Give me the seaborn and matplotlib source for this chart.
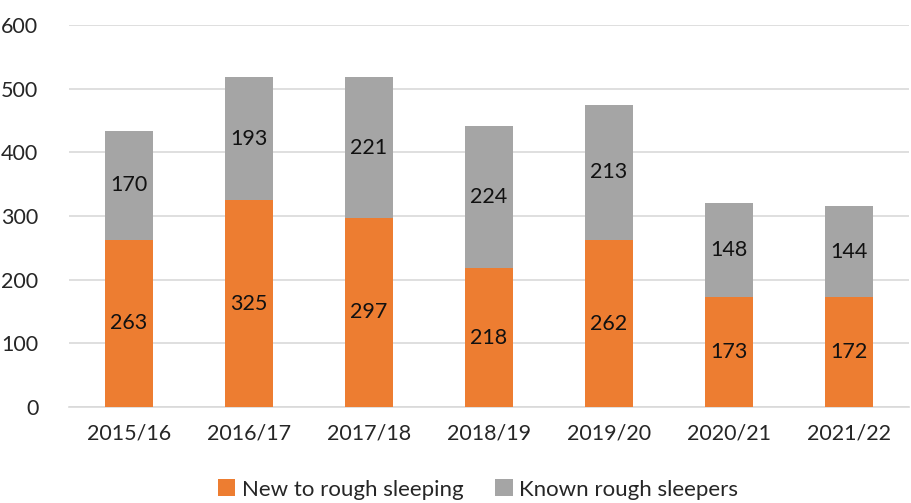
import pandas as pd
import matplotlib
matplotlib.use("Agg")
import matplotlib.pyplot as plt
import seaborn as sns

years = ["2015/16", "2016/17", "2017/18", "2018/19", "2019/20", "2020/21", "2021/22"]
new_rough = [263, 325, 297, 218, 262, 173, 172]
known_rough = [170, 193, 221, 224, 213, 148, 144]

ORANGE = "#ED7D31"
GREY = "#A5A5A5"

sns.set_style("white")
plt.rcParams["font.family"] = ["Lato", "DejaVu Sans"]

df = pd.DataFrame({"year": years, "new": new_rough, "known": known_rough})

fig = plt.figure(figsize=(9.11, 5.03), dpi=100)
ax = fig.add_axes([0.0757, 0.191, 0.922, 0.759])

sns.barplot(data=df, x="year", y="new", color=ORANGE, width=0.4,
            saturation=1, linewidth=0, label="New to rough sleeping", ax=ax, zorder=3)
sns.barplot(data=df, x="year", y="known", color=GREY, width=0.4,
            saturation=1, linewidth=0, bottom=df["new"], label="Known rough sleepers",
            ax=ax, zorder=3)

# value labels centred in each segment
for i, (n, k) in enumerate(zip(new_rough, known_rough)):
    ax.text(i, n / 2, str(n), ha="center", va="center", fontsize=15.5, color="#111111", zorder=4)
    ax.text(i, n + k / 2, str(k), ha="center", va="center", fontsize=15.5, color="#111111", zorder=4)

ax.set_ylim(0, 600)
ax.set_xlim(-0.5, 6.5)
ax.set_yticks(range(0, 601, 100))
ax.yaxis.grid(True, color="#D9D9D9", linewidth=1.2, zorder=0)
ax.set_axisbelow(True)
ax.set_xlabel("")
ax.set_ylabel("")
for side in ["top", "right", "left"]:
    ax.spines[side].set_visible(False)
ax.spines["bottom"].set_color("#D9D9D9")
ax.spines["bottom"].set_linewidth(1.2)
ax.tick_params(axis="both", length=0, labelsize=15.5, colors="#262626")
ax.tick_params(axis="x", pad=12)
ax.tick_params(axis="y", pad=22)

ax.legend(loc="lower center", bbox_to_anchor=(0.487, -0.295), ncol=2, frameon=False,
          fontsize=16, handlelength=0.8, handleheight=0.8, handletextpad=0.3,
          columnspacing=1.4, labelcolor="#262626")

fig.savefig("out.png", dpi=100)
